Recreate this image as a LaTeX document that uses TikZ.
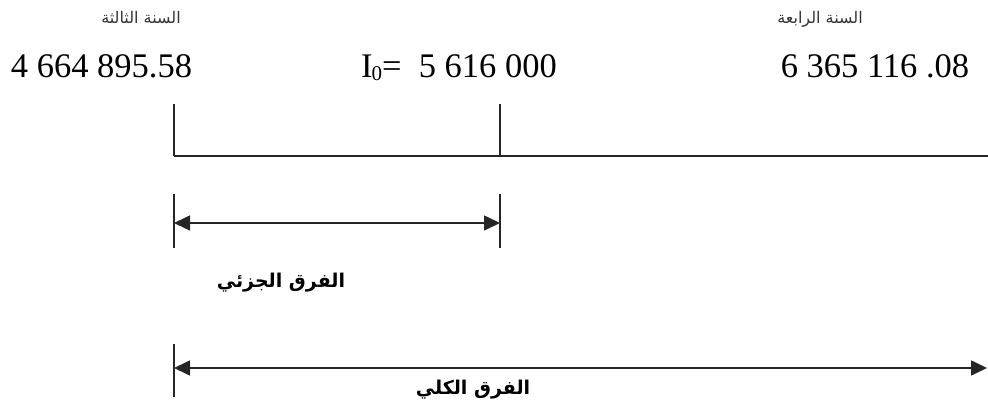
\documentclass[tikz,border=0pt]{standalone}
\usepackage{fontspec}
\setmainfont{Liberation Serif}
\newfontfamily\arabicfont[Script=Arabic]{DejaVu Sans}
\TeXXeTstate=1
\usetikzlibrary{arrows.meta}
\begin{document}
\begin{tikzpicture}[x=1pt,y=-1pt,
  ln/.style={line width=1.6pt,draw=black!85},
  dim/.style={line width=1.6pt,draw=black!85,{Triangle[length=16pt,width=15pt]}-{Triangle[length=16pt,width=15pt]}},
  hdr/.style={inner sep=0pt,anchor=base,font=\arabicfont\fontsize{16}{19}\selectfont,text=black!80},
  num/.style={inner sep=0pt,anchor=base,font=\fontsize{34.5}{40}\selectfont},
  lbl/.style={inner sep=0pt,anchor=base,font=\arabicfont\bfseries\fontsize{19}{23}\selectfont}]
\useasboundingbox (0,0) rectangle (988,409);
% headers
\node[hdr] (h3) at (141,24) {\beginR السنة الثالثة\endR};
\node[hdr] (h4) at (820,24) {\beginR السنة الرابعة\endR};
% numbers
\node[num] (n3) at (101.5,78) {4 664 895.58};
\node[num] (n0) at (459,78) {I\kern-1pt\raisebox{-3pt}{\fontsize{21}{21}\selectfont 0}=\ \ 5 616 000};
\node[num] (n4) at (875,78) {6 365 116 .08};
% axis
\coordinate (a0) at (174,104);
\coordinate (a1) at (174,156);
\coordinate (b0) at (500,104);
\coordinate (b1) at (500,156);
\coordinate (e1) at (988,156);
\draw[ln] (a0) -- (a1);
\draw[ln] (b0) -- (b1);
\draw[ln] (a1) -- (e1);
% partial difference
\coordinate (p0) at (174,194);
\coordinate (p1) at (174,248);
\coordinate (q0) at (500,194);
\coordinate (q1) at (500,248);
\coordinate (pl) at (174,223);
\coordinate (pr) at (500,223);
\draw[ln] (p0) -- (p1);
\draw[ln] (q0) -- (q1);
\draw[dim] (pl) -- (pr);
\node[lbl] (lp) at (281,287) {\beginR الفرق الجزئي\endR};
% total difference
\coordinate (t0) at (174,344);
\coordinate (t1) at (174,397);
\coordinate (tl) at (174,368);
\coordinate (tr) at (987,368);
\draw[ln] (t0) -- (t1);
\draw[dim] (tl) -- (tr);
\node[lbl] (lt) at (473,394) {\beginR الفرق الكلي\endR};
\end{tikzpicture}
\end{document}
